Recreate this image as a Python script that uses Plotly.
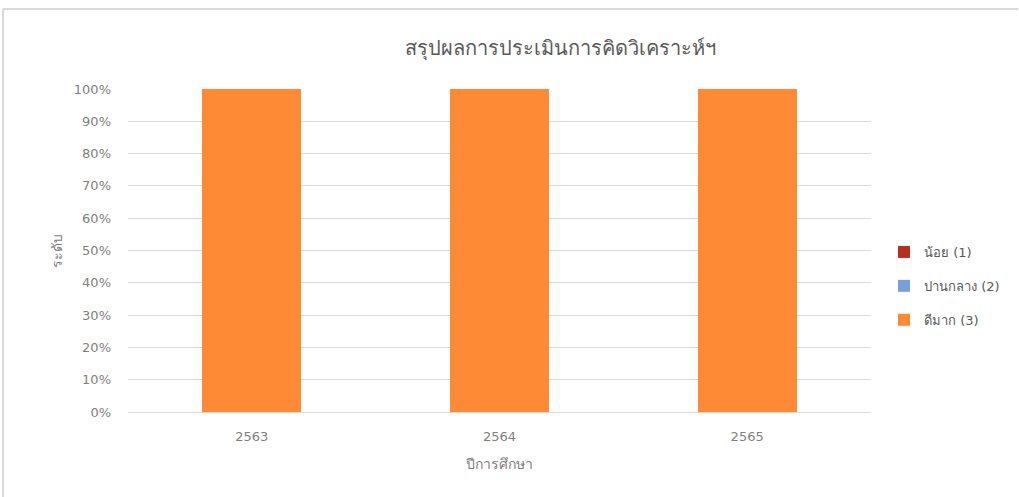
import plotly.graph_objects as go

# Academic years and share of students at each assessment level
years = ["2563", "2564", "2565"]
level_low = [0, 0, 0]        # น้อย (1)
level_mid = [0, 0, 0]        # ปานกลาง (2)
level_high = [1.0, 1.0, 1.0]  # ดีมาก (3)

series_names = ["น้อย (1)", "ปานกลาง (2)", "ดีมาก (3)"]
series_values = [level_low, level_mid, level_high]
series_colors = ["#B5301F", "#7A9FDB", "#FF8A35"]

W, H = 1019, 497
ML, MR, MT, MB = 128, 148, 89, 85
PW, PH = W - ML - MR, H - MT - MB

FONT = "Tahoma, 'DejaVu Sans', 'Noto Sans', sans-serif"

fig = go.Figure()
for i, (name, vals, col) in enumerate(zip(series_names, series_values, series_colors)):
    fig.add_trace(go.Bar(
        x=years, y=vals, name=name, marker=dict(color=col, line=dict(width=0)),
        width=0.4, legendgroup=f"g{i}",
    ))


def px_x(px):
    return (px - ML) / PW


def px_y(py):
    return (H - MB - py) / PH


# thin frame around the chart area (top and left edges)
fig.add_shape(type="line", xref="paper", yref="paper",
              x0=px_x(3), x1=px_x(1018), y0=px_y(9), y1=px_y(9),
              line=dict(color="#D9D9D9", width=2))
fig.add_shape(type="line", xref="paper", yref="paper",
              x0=px_x(3), x1=px_x(3), y0=px_y(9), y1=px_y(497),
              line=dict(color="#D9D9D9", width=2))

fig.update_layout(
    width=W, height=H,
    margin=dict(l=ML, r=MR, t=MT, b=MB, autoexpand=False),
    paper_bgcolor="white", plot_bgcolor="white",
    barmode="stack",
    font=dict(family=FONT, color="#7F7F7F", size=13),
    title=dict(text="สรุปผลการประเมินการคิดวิเคราะห์ฯ", x=560 / W, xanchor="center",
               y=1 - 48 / H, yanchor="middle",
               font=dict(size=20, color="#595959", family=FONT)),
    showlegend=True,
    legend=dict(x=px_x(884), y=px_y(237), xanchor="left", yanchor="top",
                traceorder="grouped", tracegroupgap=14,
                font=dict(size=13, color="#595959", family=FONT),
                bgcolor="rgba(0,0,0,0)"),
    xaxis=dict(
        range=[-0.5, 2.5], showgrid=False, showline=True,
        linecolor="#D9D9D9", linewidth=1, ticks="",
        ticklabelstandoff=12,
        tickfont=dict(size=13, color="#7F7F7F"),
        title=dict(text="ปีการศึกษา", font=dict(size=14, color="#7F7F7F"), standoff=16),
    ),
    yaxis=dict(
        range=[0, 1], dtick=0.1, tickformat=".0%",
        showgrid=True, gridcolor="#D9D9D9", gridwidth=1,
        zeroline=True, zerolinecolor="#D9D9D9", zerolinewidth=1,
        showline=False, ticks="", ticklen=0,
        ticklabelstandoff=16,
        tickfont=dict(size=13, color="#7F7F7F"),
        title=dict(text="ระดับ", font=dict(size=14, color="#7F7F7F"), standoff=7),
    ),
)

fig.write_html("out.html")
